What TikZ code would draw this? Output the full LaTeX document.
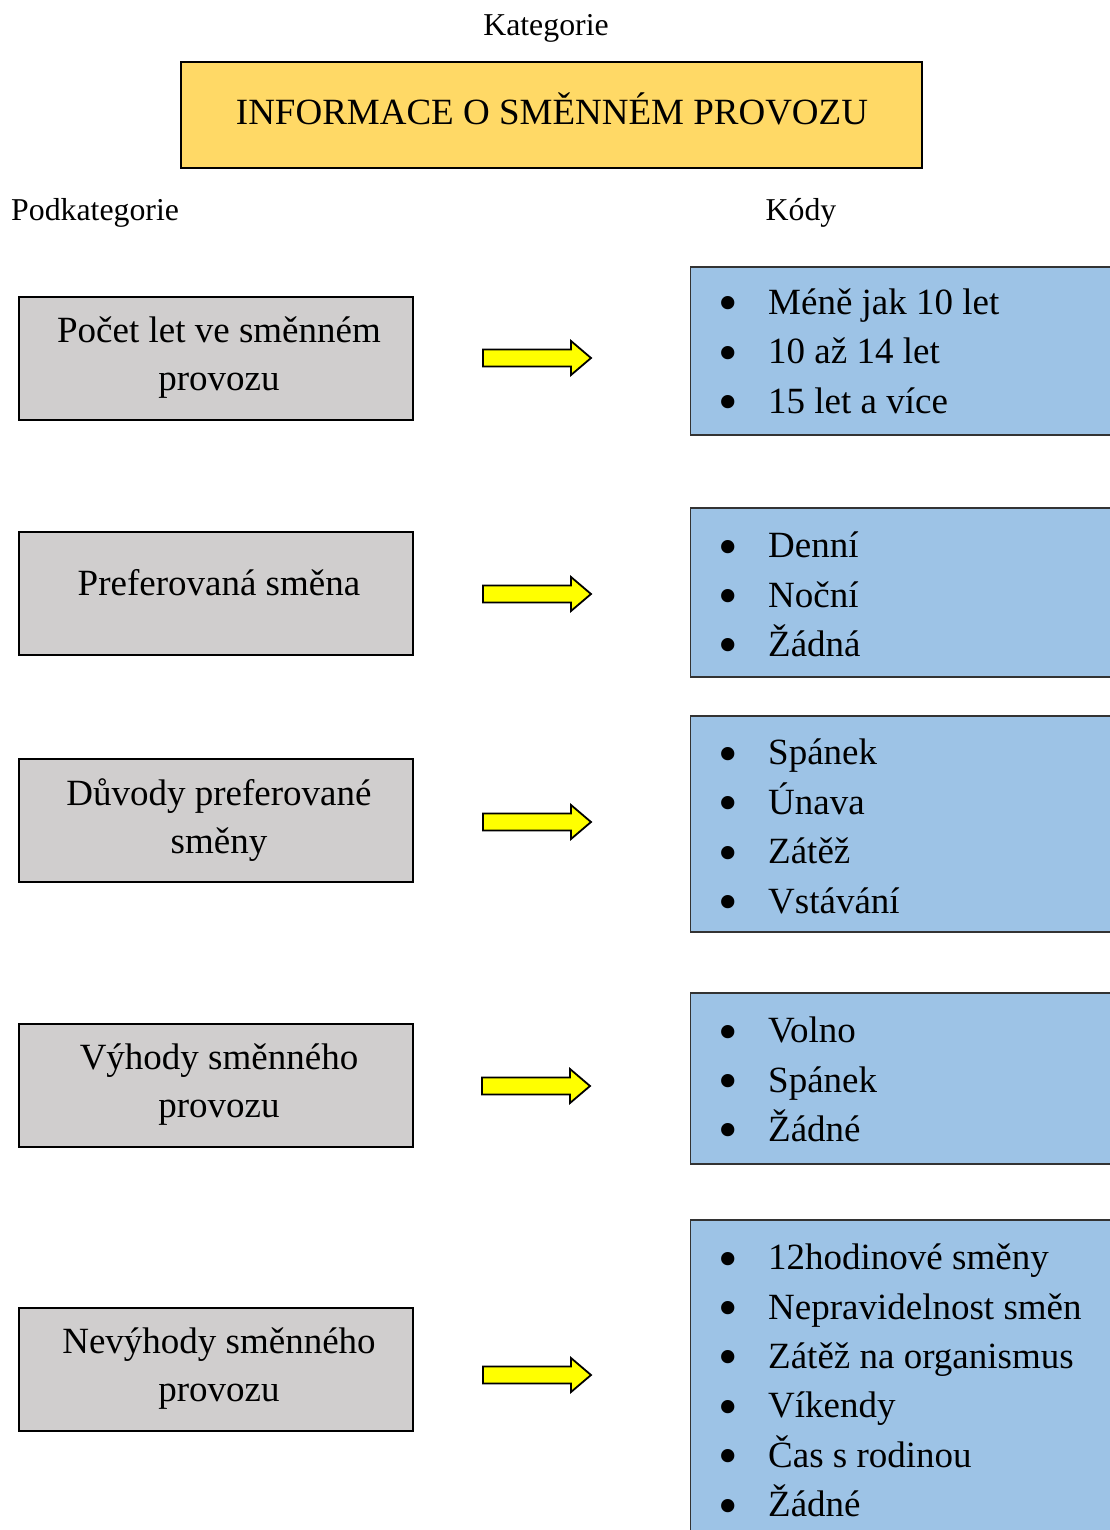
\documentclass[tikz,border=0pt]{standalone}
\usepackage{fontspec}
\usepackage{graphicx}
\setmainfont{Liberation Serif}
\definecolor{titlefill}{HTML}{FFD966}
\definecolor{subfill}{HTML}{D0CECE}
\definecolor{codefill}{HTML}{9DC3E6}
\definecolor{arrowfill}{HTML}{FFFF00}
\newcommand{\itm}[1]{\makebox[50pt][l]{\smash{\raisebox{-0.2em}{\scalebox{1.5}{\textbullet}}}}#1}
% block arrow centred on a named coordinate: length 108, shaft 17, head 34 high and 20 long
\newcommand{\blockarrow}[1]{%
  \draw[arrowshape] ([shift={(-54,-8.5)}]#1) -- ([shift={(34,-8.5)}]#1) -- ([shift={(34,-17)}]#1)
    -- ([shift={(54,0)}]#1) -- ([shift={(34,17)}]#1) -- ([shift={(34,8.5)}]#1)
    -- ([shift={(-54,8.5)}]#1) -- cycle;}
\begin{document}
\begin{tikzpicture}[x=1pt,y=-1pt,
  lbl/.style={inner sep=0pt,font=\fontsize{31.8}{36}\selectfont},
  titlebox/.style={draw=black,line width=1.6pt,fill=titlefill,minimum width=741pt,minimum height=106pt,inner sep=0pt},
  subbox/.style={draw=black,line width=1.6pt,fill=subfill,minimum width=394pt,minimum height=123pt,inner sep=0pt},
  boxtext/.style={inner sep=0pt,align=center,font=\fontsize{37}{48}\selectfont},
  codebox/.style={draw=black!80,line width=1.4pt,fill=codefill,anchor=west,minimum width=440pt,inner sep=0pt},
  codetext/.style={anchor=west,inner sep=0pt,align=left,font=\fontsize{37}{49.4}\selectfont},
  arrowshape/.style={draw=black,line width=1.8pt,fill=arrowfill,line join=miter},
]
\useasboundingbox (0,0) rectangle (1110,1530);
\clip (0,0) rectangle (1110,1530);

% headings
\node[lbl] (kat) at (546,28) {Kategorie};
\node[lbl,anchor=west] (podkat) at (11,213) {Podkategorie};
\node[lbl] (kody) at (801,213) {Kódy};

% main category
\node[titlebox] (title) at (551.5,115) {};
\node[boxtext] (titletext) at (552,109) {INFORMACE O SMĚNNÉM PROVOZU};

% subcategories
\node[subbox] (s1) at (216,358.5) {};
\node[subbox] (s2) at (216,593.5) {};
\node[subbox] (s3) at (216,820.5) {};
\node[subbox] (s4) at (216,1085.5) {};
\node[subbox] (s5) at (216,1369.5) {};
\node[boxtext] (s1t) at (219,358) {Počet let ve směnném\\provozu};
\node[boxtext] (s2t) at (219,583) {Preferovaná směna};
\node[boxtext] (s3t) at (219,820) {Důvody preferované\\směny};
\node[boxtext] (s4t) at (219,1085) {Výhody směnného\\provozu};
\node[boxtext] (s5t) at (219,1369) {Nevýhody směnného\\provozu};

% codes
\node[codebox,minimum height=168pt] (c1) at (690,351) {};
\node[codebox,minimum height=169pt] (c2) at (690,592.5) {};
\node[codebox,minimum height=216pt] (c3) at (690,824) {};
\node[codebox,minimum height=171pt] (c4) at (690,1078.5) {};
\node[codebox,minimum height=320pt] (c5) at (690,1380) {};
\node[codetext] (c1t) at ([xshift=28pt,yshift=0pt]c1.west) {\itm{Méně jak 10 let}\\\itm{10 až 14 let}\\\itm{15 let a více}};
\node[codetext] (c2t) at ([xshift=28pt,yshift=-2pt]c2.west) {\itm{Denní}\\\itm{Noční}\\\itm{Žádná}};
\node[codetext] (c3t) at ([xshift=28pt,yshift=-2.5pt]c3.west) {\itm{Spánek}\\\itm{Únava}\\\itm{Zátěž}\\\itm{Vstávání}};
\node[codetext] (c4t) at ([xshift=28pt,yshift=-1pt]c4.west) {\itm{Volno}\\\itm{Spánek}\\\itm{Žádné}};
\node[codetext] (c5t) at ([xshift=28pt,yshift=-0.5pt]c5.west) {\itm{12hodinové směny}\\\itm{Nepravidelnost směn}\\\itm{Zátěž na organismus}\\\itm{Víkendy}\\\itm{Čas s rodinou}\\\itm{Žádné}};

% block arrows between subcategory and codes
\coordinate (a1) at (537,358);
\coordinate (a2) at (537,594);
\coordinate (a3) at (537,822);
\coordinate (a4) at (536,1086);
\coordinate (a5) at (537,1375);
\blockarrow{a1}
\blockarrow{a2}
\blockarrow{a3}
\blockarrow{a4}
\blockarrow{a5}
\end{tikzpicture}
\end{document}
